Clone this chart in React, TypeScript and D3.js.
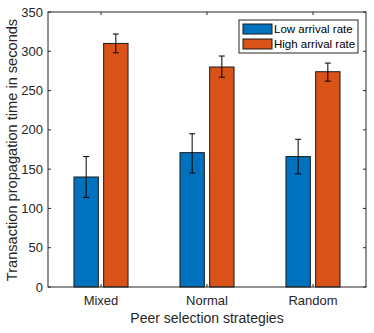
import React from 'react'
import * as d3 from 'd3'

const width = 374
const height = 333
const margin = { top: 12, right: 8, bottom: 46, left: 48 }

const categories = ['Mixed', 'Normal', 'Random']
const seriesNames = ['Low arrival rate', 'High arrival rate']
const lowValues = [140, 171, 166]
const lowErrLo = [114, 145, 144]
const lowErrHi = [166, 195, 188]
const highValues = [310, 280, 274]
const highErrLo = [298, 267, 262]
const highErrHi = [322, 294, 285]
const yTicks = [0, 50, 100, 150, 200, 250, 300, 350]
const colors = ['#0072BD', '#D95319']

const font = '"Liberation Sans", Arial, Helvetica, sans-serif'
const axisColor = '#262626'

export default function App() {
  const x0 = margin.left
  const x1 = width - margin.right
  const y0 = height - margin.bottom
  const y1 = margin.top

  // MATLAB style: groups at 1..n, xlim [0.5, n+0.5]
  const xScale = d3.scaleLinear().domain([0.5, categories.length + 0.5]).range([x0, x1])
  const yScale = d3.scaleLinear().domain([0, 350]).range([y0, y1])

  const unit = xScale(2) - xScale(1)
  const barW = unit * 0.23
  const offset = unit * 0.14

  const series = [
    { vals: lowValues, lo: lowErrLo, hi: lowErrHi },
    { vals: highValues, lo: highErrLo, hi: highErrHi },
  ]

  return (
    <div style={{ position: 'absolute', left: 0, top: 0 }}>
      <svg width={width} height={height} style={{ display: 'block', background: '#fff' }}>
        {/* bars */}
        {series.map((s, si) =>
          s.vals.map((v, i) => {
            const cx = xScale(i + 1) + (si === 0 ? -offset : offset)
            return (
              <g key={`${si}-${i}`}>
                <rect
                  x={cx - barW / 2}
                  y={yScale(v)}
                  width={barW}
                  height={yScale(0) - yScale(v)}
                  fill={colors[si]}
                  stroke="#1a1a1a"
                  strokeWidth={1}
                />
                <line x1={cx} x2={cx} y1={yScale(s.lo[i])} y2={yScale(s.hi[i])} stroke="#000" strokeWidth={1} />
                <line x1={cx - 3} x2={cx + 3} y1={yScale(s.lo[i])} y2={yScale(s.lo[i])} stroke="#000" strokeWidth={1} />
                <line x1={cx - 3} x2={cx + 3} y1={yScale(s.hi[i])} y2={yScale(s.hi[i])} stroke="#000" strokeWidth={1} />
              </g>
            )
          })
        )}

        {/* axes box */}
        <rect x={x0} y={y1} width={x1 - x0} height={y0 - y1} fill="none" stroke={axisColor} strokeWidth={1} />

        {/* y ticks */}
        {yTicks.map(t => (
          <g key={t}>
            <line x1={x0} x2={x0 + 3} y1={yScale(t)} y2={yScale(t)} stroke={axisColor} />
            <line x1={x1} x2={x1 - 3} y1={yScale(t)} y2={yScale(t)} stroke={axisColor} />
            <text x={x0 - 5} y={yScale(t)} dy="0.35em" textAnchor="end" fontFamily={font} fontSize={13} fill={axisColor}>
              {t}
            </text>
          </g>
        ))}

        {/* x ticks */}
        {categories.map((c, i) => (
          <g key={c}>
            <line x1={xScale(i + 1)} x2={xScale(i + 1)} y1={y0} y2={y0 - 3} stroke={axisColor} />
            <line x1={xScale(i + 1)} x2={xScale(i + 1)} y1={y1} y2={y1 + 3} stroke={axisColor} />
            <text x={xScale(i + 1)} y={y0 + 18} textAnchor="middle" fontFamily={font} fontSize={13} fill={axisColor}>
              {c}
            </text>
          </g>
        ))}

        {/* axis labels */}
        <text x={(x0 + x1) / 2} y={y0 + 36} textAnchor="middle" fontFamily={font} fontSize={14} fill={axisColor}>
          Peer selection strategies
        </text>
        <text
          transform={`translate(17, 150) rotate(-90)`}
          textAnchor="middle"
          fontFamily={font}
          fontSize={14.6}
          fill={axisColor}
        >
          Transaction propagation time in seconds
        </text>

        {/* legend */}
        <g transform="translate(239, 20)">
          <rect x={0} y={0} width={119} height={33} fill="#fff" stroke={axisColor} strokeWidth={1} />
          {seriesNames.map((n, i) => (
            <g key={n} transform={`translate(0, ${9 + i * 15})`}>
              <rect x={4} y={-5} width={29} height={10} fill={colors[i]} stroke="#1a1a1a" strokeWidth={1} />
              <text x={35} y={0} dy="0.35em" fontFamily={font} fontSize={11.5} fill="#000">
                {n}
              </text>
            </g>
          ))}
        </g>
      </svg>
    </div>
  )
}
